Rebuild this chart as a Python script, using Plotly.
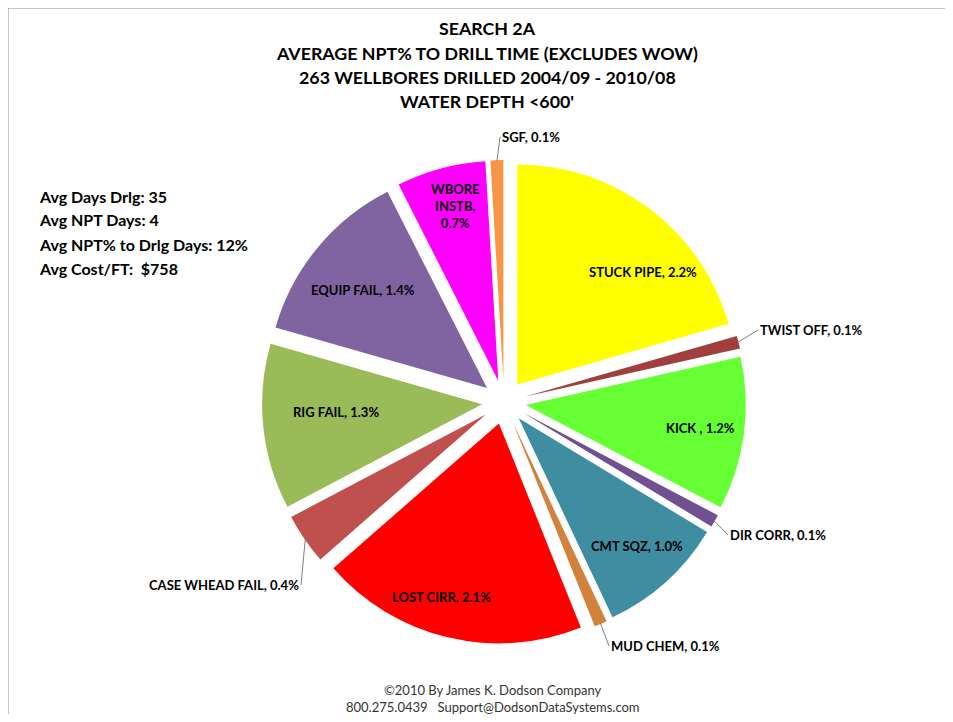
import math
import plotly.graph_objects as go

# NPT categories, clockwise from 12 o'clock
labels = ['STUCK PIPE', 'TWIST OFF', 'KICK ', 'DIR CORR', 'CMT SQZ', 'MUD CHEM',
          'LOST CIRR', 'CASE WHEAD FAIL', 'RIG FAIL', 'EQUIP FAIL', 'WBORE INSTB', 'SGF']
npt_pct = [2.2, 0.1, 1.2, 0.1, 1.0, 0.1, 2.1, 0.4, 1.3, 1.4, 0.7, 0.1]
colors = ['#FFFF00', '#A0403E', '#66FF33', '#705090', '#3E8DA1', '#D2823A',
          '#FF0000', '#C0504D', '#9BBB59', '#8064A2', '#FF00FF', '#F79646']

title_lines = ['SEARCH 2A',
               'AVERAGE NPT% TO DRILL TIME (EXCLUDES WOW)',
               '263 WELLBORES DRILLED 2004/09 - 2010/08',
               "WATER DEPTH <600'"]
stats = ['Avg Days Drlg: 35', 'Avg NPT Days: 4',
         'Avg NPT% to Drlg Days: 12%', 'Avg Cost/FT:  $758']
footer = ['\u00a92010 By James K. Dodson Company',
          '800.275.0439   Support@DodsonDataSystems.com']

# page body has an 8px margin, so the figure is a bit smaller than the window
OFF = 8
W, H = 953 - 2 * OFF, 722 - 2 * OFF
FONT = 'Lato'
PULL = 0.1


def px(x):
    return (x - OFF) / W


def py(y):
    return 1 - (y - OFF) / H


# pie box in window pixels
box_x = (262, 746)
box_y = (160, 644)
cx, cy = sum(box_x) / 2, sum(box_y) / 2
radius = (box_x[1] - box_x[0]) / 2 / (1 + PULL)

fig = go.Figure()
fig.add_trace(go.Pie(labels=labels,
                     values=npt_pct,
                     textinfo='none',
                     sort=False,
                     direction='clockwise',
                     rotation=0,
                     pull=PULL,
                     marker=dict(colors=colors, line=dict(width=0)),
                     domain=dict(x=[px(box_x[0]), px(box_x[1])], y=[py(box_y[1]), py(box_y[0])]),
                     showlegend=False,
                     hoverinfo='label+value'
                     ))

# label placement (window pixels), Excel style
inside_spots = {'STUCK PIPE': (643, 272),
                'KICK ': (700, 428),
                'CMT SQZ': (637, 546),
                'LOST CIRR': (441, 597),
                'RIG FAIL': (336, 412),
                'EQUIP FAIL': (363, 290),
                'WBORE INSTB': (455, 206)}
outside_spots = {'TWIST OFF': (758, 330, 'left'),
                 'DIR CORR': (728, 535, 'left'),
                 'MUD CHEM': (609, 646, 'left'),
                 'CASE WHEAD FAIL': (301, 585, 'right'),
                 'SGF': (500, 137, 'left')}
label_font = dict(family=FONT, size=13, color='black', weight='bold')

total = sum(npt_pct)
cum = 0
for lab, v in zip(labels, npt_pct):
    mid = (cum + v / 2) / total * 2 * math.pi
    cum += v
    if lab in inside_spots:
        lx, ly = inside_spots[lab]
        if lab == 'WBORE INSTB':
            txt = f'WBORE<br>INSTB,<br>{v:.1f}%'
        else:
            txt = f'{lab}, {v:.1f}%'
        fig.add_annotation(text=txt, x=px(lx), y=py(ly), xref='paper', yref='paper',
                           showarrow=False, xanchor='center', yanchor='middle',
                           font=label_font)
        continue
    # thin slices: label outside with a leader line
    r_tip = radius * (1 + PULL) - 1
    hx = cx + r_tip * math.sin(mid)
    hy = cy - r_tip * math.cos(mid)
    lx, ly, anchor = outside_spots[lab]
    fig.add_annotation(text=f'{lab}, {v:.1f}%', x=px(hx), y=py(hy),
                       xref='paper', yref='paper',
                       ax=lx - hx, ay=ly - hy, xanchor=anchor, yanchor='middle',
                       showarrow=True, arrowhead=0, arrowwidth=1, arrowcolor='#7F7F7F',
                       standoff=0, startstandoff=0,
                       font=label_font)

# title lines
for i, t in enumerate(title_lines):
    fig.add_annotation(text=t, x=px(487), y=py(28 + 24.5 * i),
                       xref='paper', yref='paper', showarrow=False,
                       xanchor='center', yanchor='middle',
                       font=dict(family=FONT, size=17.8, color='black', weight='bold'))

# stats box on the left
for i, t in enumerate(stats):
    fig.add_annotation(text=t, x=px(37), y=py(196 + 24 * i),
                       xref='paper', yref='paper', showarrow=False,
                       xanchor='left', yanchor='middle',
                       font=dict(family=FONT, size=16, color='black', weight='bold'))

# footer
for i, t in enumerate(footer):
    fig.add_annotation(text=t, x=px(493), y=py(690 + 17 * i),
                       xref='paper', yref='paper', showarrow=False,
                       xanchor='center', yanchor='middle',
                       font=dict(family=FONT, size=13, color='#333333'))

# chart frame (only left and top edges visible)
fig.add_shape(type='line', xref='paper', yref='paper', x0=0, x1=1, y0=py(7.5), y1=py(7.5),
              line=dict(color='#8C8C8C', width=2))
fig.add_shape(type='line', xref='paper', yref='paper', x0=px(7.5), x1=px(7.5), y0=0, y1=py(7.5),
              line=dict(color='#8C8C8C', width=2))

fig.update_layout(width=W, height=H,
                  margin=dict(l=0, r=0, t=0, b=0),
                  paper_bgcolor='white',
                  plot_bgcolor='white')

fig.write_html("out.html")
